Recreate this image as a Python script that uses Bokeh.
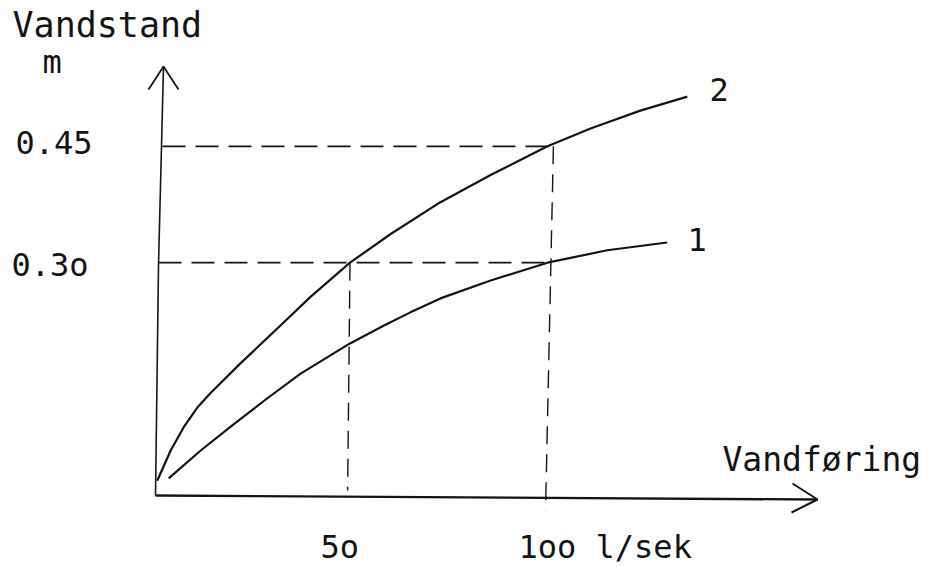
from bokeh.plotting import figure
from bokeh.models import Range1d
from bokeh.embed import file_html
from bokeh.resources import INLINE
from bokeh.core.properties import value

# ---- data ----
# discharge Q (l/sek) and water level h (m)
curve2_q = [1.2, 4.6, 7.9, 11.3, 14.7, 21.8, 32.4, 40.0, 50, 60.3, 72.9, 85.6, 100, 110.9, 123.5, 135.4]
curve2_h = [0.019, 0.058, 0.088, 0.113, 0.132, 0.168, 0.219, 0.256, 0.30, 0.337, 0.378, 0.413, 0.45, 0.473, 0.496, 0.514]
curve1_q = [4.1, 12.2, 20.6, 29.0, 37.5, 50, 58.6, 65.3, 72.9, 85.6, 100, 115.1, 130.3]
curve1_h = [0.022, 0.058, 0.092, 0.125, 0.157, 0.196, 0.219, 0.236, 0.254, 0.277, 0.30, 0.316, 0.326]
ref_q = [50, 100]          # marked discharges
ref_h = [0.30, 0.45]       # marked water levels
x_tick_labels = ["5o", "1oo l/sek"]
y_tick_labels = ["0.3o", "0.45"]
curve_names = ["1", "2"]

# ---- layout ----
W, H = 931, 567
XS = 3.95      # px per l/sek
YS = 776.0     # px per m
X0 = 152       # px of q=0
Y0 = 495       # px (from top) of h=0
TXT = 13       # baseline correction of the svg text

def dx(px):
    return (px - X0) / XS

def dy(py):
    return (Y0 - py) / YS

p = figure(width=W, height=H, output_backend="svg", toolbar_location=None,
           x_range=Range1d(-X0 / XS, (W - X0) / XS),
           y_range=Range1d(-(H - Y0) / YS, Y0 / YS),
           min_border=0, outline_line_color=None)
p.xaxis.visible = False
p.yaxis.visible = False
p.grid.visible = False
p.background_fill_color = "white"
p.border_fill_color = "white"

ink = "#141414"

# axes (hand drawn, with open arrow heads)
ox, oy = dx(155), dy(495)
p.line([ox, dx(158), dx(163)], [oy, dy(265), dy(66)], line_color=ink, line_width=1.6)
p.line([dx(148), dx(163), dx(178)], [dy(89), dy(66), dy(89)], line_color=ink, line_width=1.8)
p.line([ox, dx(817)], [oy, dy(499)], line_color=ink, line_width=2.4)
p.line([dx(792), dx(817), dx(791)], [dy(483), dy(499), dy(512)], line_color=ink, line_width=2.0)

# dashed reference lines
dash = "23 10"
p.line([dx(162), ref_q[1] + 1.5], [ref_h[1], ref_h[1]], line_color=ink, line_width=1.7, line_dash=dash)
p.line([dx(158), ref_q[1]], [ref_h[0], ref_h[0]], line_color=ink, line_width=1.7, line_dash=dash)
p.line([ref_q[0], ref_q[0] - 0.6], [ref_h[0], dy(490)], line_color=ink, line_width=1.4, line_dash="18 10")
p.line([ref_q[1] + 1.5, ref_q[1] - 0.5], [ref_h[1], dy(510)], line_color=ink, line_width=1.4, line_dash="18 10")

# rating curves
p.line(curve2_q, curve2_h, line_color=ink, line_width=2.2, line_join="round")
p.line(curve1_q, curve1_h, line_color=ink, line_width=2.2, line_join="round")

font = value("DejaVu Sans Mono")

def label(px, baseline_py, t, size="32px"):
    p.text(x=[dx(px)], y=[dy(baseline_py - TXT)], text=[t], text_font=font,
           text_font_size=size, text_color=ink, text_align="left",
           text_baseline="alphabetic")

label(12, 37, "Vandstand", size="35px")
label(42, 74, "m")
label(15, 155, y_tick_labels[1])
label(11, 277, y_tick_labels[0])
label(320, 559, x_tick_labels[0])
label(518, 559, x_tick_labels[1])
label(722, 472, "Vandføring", size="33px")
label(709, 102, curve_names[1])
label(687, 252, curve_names[0])

open("out.html", "w").write(file_html(p, INLINE))
